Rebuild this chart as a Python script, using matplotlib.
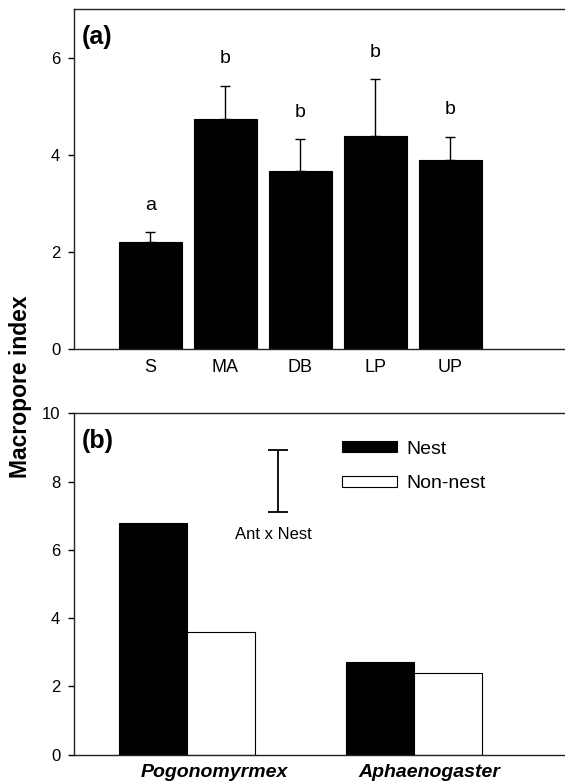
import numpy as np
import matplotlib.pyplot as plt
from matplotlib.patches import Patch

plt.rcParams['font.family'] = ['Liberation Sans', 'DejaVu Sans']

# panel (a): habitat means with upper SE
sites = ['S', 'MA', 'DB', 'LP', 'UP']
site_mean = [2.20, 4.74, 3.68, 4.40, 3.90]
site_se = [0.21, 0.69, 0.64, 1.17, 0.48]
site_letters = ['a', 'b', 'b', 'b', 'b']

# panel (b): ant genus x nest
ants = ['Pogonomyrmex', 'Aphaenogaster']
nest = [6.80, 2.71]
non_nest = [3.60, 2.40]
lsd_center = 8.015
lsd_half = 0.905

fig = plt.figure(figsize=(5.65, 7.82), dpi=100)
ax1 = fig.add_axes([0.131, 0.5537, 0.869, 0.4342])
ax2 = fig.add_axes([0.131, 0.0349, 0.869, 0.4366])

for ax in (ax1, ax2):
    ax.spines['right'].set_visible(False)
    for s in ['top', 'left', 'bottom']:
        ax.spines[s].set_linewidth(1.0)
        ax.spines[s].set_color('#222222')
    ax.tick_params(axis='y', direction='out', length=4, width=1, labelsize=12, pad=6)
    ax.tick_params(axis='x', length=0, pad=7)

# (a)
x = np.arange(len(sites))
ax1.bar(x, site_mean, width=0.84, color='black', edgecolor='black', linewidth=0.8)
ax1.errorbar(x, site_mean, yerr=[np.zeros(len(x)), site_se], fmt='none',
             ecolor='black', elinewidth=1, capsize=3.5, capthick=1)
for xi, m, e, lab in zip(x, site_mean, site_se, site_letters):
    ax1.text(xi, m + e + 0.55, lab, ha='center', va='center', fontsize=14)
ax1.set_xlim(-1.02, 5.53)
ax1.set_ylim(0, 7)
ax1.set_yticks([0, 2, 4, 6])
ax1.set_xticks(x)
ax1.set_xticklabels(sites, fontsize=13)
ax1.text(0.016, 0.919, '(a)', transform=ax1.transAxes, fontsize=18,
         fontweight='bold', va='center', ha='left')

# (b)
g = np.arange(len(ants))
w = 0.30
ax2.bar(g - w / 2, nest, width=w, color='black', edgecolor='black', linewidth=0.8)
ax2.bar(g + w / 2, non_nest, width=w, color='white', edgecolor='black', linewidth=0.8)
ax2.errorbar([0.40], [lsd_center], yerr=[lsd_half], fmt='none', ecolor='black',
             elinewidth=1.3, capsize=7, capthick=1.3)
ax2.text(0.379, 6.44, 'Ant x Nest', ha='center', va='center', fontsize=12)
ax2.set_xlim(-0.50, 1.668)
ax2.set_ylim(0, 10)
ax2.set_yticks([0, 2, 4, 6, 8, 10])
# labels sit a little right of the group centres in the original
ax2.set_xticks(g + np.array([0.118, 0.068]))
ax2.set_xticklabels(ants, fontsize=14, fontweight='bold', fontstyle='italic')
ax2.text(0.016, 0.919, '(b)', transform=ax2.transAxes, fontsize=18,
         fontweight='bold', va='center', ha='left')

handles = [Patch(facecolor='black', edgecolor='black', linewidth=0.8, label='Nest'),
           Patch(facecolor='white', edgecolor='black', linewidth=0.8, label='Non-nest')]
ax2.legend(handles=handles, loc='upper left', bbox_to_anchor=(0.545, 0.92),
           frameon=False, fontsize=14, borderpad=0, borderaxespad=0,
           handlelength=2.85, handleheight=0.5, handletextpad=0.5, labelspacing=0.9)

fig.text(0.037, 0.506, 'Macropore index', rotation=90, ha='center', va='center',
         fontsize=16.5, fontweight='bold')

fig.savefig('out.png', dpi=100)
